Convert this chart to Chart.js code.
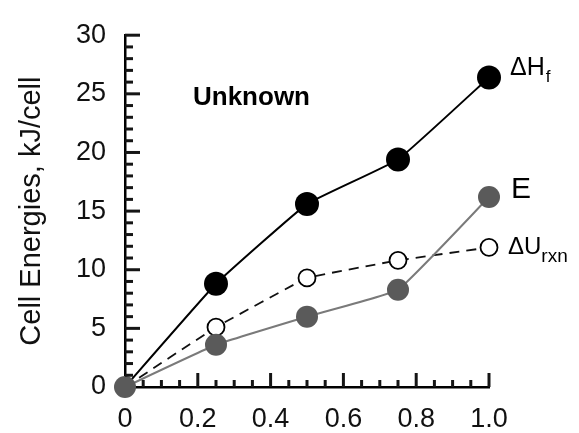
<!DOCTYPE html>
<html>
<head>
<meta charset="utf-8">
<script src="https://cdn.jsdelivr.net/npm/chart.js@4/dist/chart.umd.min.js"></script>
<style>
  html, body { margin: 0; padding: 0; background: #fff; }
  #wrap { width: 579px; height: 433px; }
</style>
</head>
<body>
<div id="wrap"><canvas id="c" width="579" height="433"></canvas></div>
<script>
// ---- data ----
const xValues   = [0, 0.25, 0.5, 0.75, 1.0];
const deltaHf   = [0, 8.8, 15.6, 19.4, 26.4];
const deltaUrxn = [0, 5.1, 9.3, 10.8, 11.9];
const cellE     = [0, 3.6, 6.0, 8.3, 16.2];
const xTickLabels = ['0', '0.2', '0.4', '0.6', '0.8', '1.0'];
const yTickLabels = ['0', '5', '10', '15', '20', '25', '30'];
const yTitle = 'Cell Energies, kJ/cell';
const panelLabel = 'Unknown';

const pts = arr => xValues.map((x, i) => ({ x, y: arr[i] }));

const FONT = "'Liberation Sans', Arial, Helvetica, sans-serif";

function drawTicks(chart) {
  const ctx = chart.ctx;
  const xs = chart.scales.x, ys = chart.scales.y;
  const left = chart.chartArea.left, bottom = chart.chartArea.bottom;
  ctx.save();
  ctx.setLineDash([]);
  ctx.globalAlpha = 1;
  ctx.strokeStyle = '#151515';
  ctx.lineWidth = 3;
  for (let v = 1; v <= 30; v++) {
    const py = ys.getPixelForValue(v);
    const len = v % 5 === 0 ? 15 : 8;
    ctx.beginPath(); ctx.moveTo(left, py); ctx.lineTo(left + len, py); ctx.stroke();
  }
  for (let i = 1; i <= 20; i++) {
    const px = xs.getPixelForValue(i * 0.05);
    const len = i % 4 === 0 ? 14 : 7;
    ctx.beginPath(); ctx.moveTo(px, bottom); ctx.lineTo(px, bottom - len); ctx.stroke();
  }
  ctx.restore();
}

const seriesLabels = {
  id: 'seriesLabels',
  afterDraw(chart) {
    drawTicks(chart);
    const { ctx, scales: { x, y } } = chart;
    const last = xValues.length - 1;
    const px = x.getPixelForValue(xValues[last]);
    ctx.save();
    ctx.fillStyle = '#000';
    ctx.textBaseline = 'alphabetic';
    ctx.textAlign = 'left';

    let py = y.getPixelForValue(deltaHf[last]);
    ctx.font = '25px ' + FONT;
    let tx = px + 21;
    ctx.fillText('ΔH', tx, py - 2);
    let w = ctx.measureText('ΔH').width;
    ctx.font = '17px ' + FONT;
    ctx.fillText('f', tx + w + 1, py + 5);

    py = y.getPixelForValue(cellE[last]);
    ctx.font = '30px ' + FONT;
    ctx.fillText('E', px + 22, py + 1);

    py = y.getPixelForValue(deltaUrxn[last]);
    ctx.font = '24px ' + FONT;
    tx = px + 19;
    ctx.fillText('ΔU', tx, py + 7);
    w = ctx.measureText('ΔU').width;
    ctx.font = '19px ' + FONT;
    ctx.fillText('rxn', tx + w, py + 15);

    ctx.font = 'bold 26px ' + FONT;
    ctx.fillText(panelLabel, chart.chartArea.left + 68, chart.chartArea.top + 70);
    ctx.restore();
  }
};

new Chart(document.getElementById('c'), {
  type: 'line',
  data: {
    datasets: [
      {
        label: 'E',
        data: pts(cellE),
        borderColor: '#7a7a7a',
        borderWidth: 2,
        backgroundColor: '#5a5a5a',
        pointBackgroundColor: '#5a5a5a',
        pointBorderColor: '#5a5a5a',
        pointBorderWidth: 0,
        pointRadius: 11,
        tension: 0.1,
        clip: false
      },
      {
        label: 'ΔUrxn',
        data: pts(deltaUrxn),
        borderColor: '#111',
        borderWidth: 1.8,
        borderDash: [10, 7],
        pointBackgroundColor: '#fff',
        pointBorderColor: '#000',
        pointBorderWidth: 1.8,
        pointRadius: ctx => ctx.dataIndex === 0 ? 0 : 8.5,
        tension: 0.05,
        clip: false
      },
      {
        label: 'ΔHf',
        data: pts(deltaHf),
        borderColor: '#000',
        borderWidth: 2,
        pointBackgroundColor: '#000',
        pointBorderColor: '#000',
        pointBorderWidth: 0,
        pointRadius: ctx => ctx.dataIndex === 0 ? 0 : 12,
        tension: 0.1,
        clip: false
      }
    ]
  },
  options: {
    responsive: false,
    animation: false,
    devicePixelRatio: 1,
    layout: { padding: { left: 0, top: 23, right: 90, bottom: 0 } },
    plugins: { legend: { display: false }, tooltip: { enabled: false } },
    elements: { point: { hoverRadius: 0 } },
    scales: {
      x: {
        type: 'linear',
        min: 0, max: 1,
        afterFit: s => { s.height = 46; },
        border: { display: true, color: '#000', width: 2.5 },
        grid: { display: true, drawOnChartArea: false, drawTicks: false },
        ticks: {
          stepSize: 0.2,
          padding: 16,
          color: '#111',
          font: { family: FONT, size: 27 },
          maxRotation: 0,
          callback: (v) => xTickLabels[Math.round(v / 0.2)]
        }
      },
      y: {
        type: 'linear',
        min: 0, max: 30,
        afterFit: s => { s.width = 125; },
        border: { display: true, color: '#000', width: 2.5 },
        grid: { display: true, drawOnChartArea: false, drawTicks: false },
        title: {
          display: true,
          text: yTitle,
          color: '#111',
          font: { family: FONT, size: 29 },
          padding: { top: 15, bottom: 0 }
        },
        ticks: {
          stepSize: 5,
          padding: 19,
          color: '#111',
          font: { family: FONT, size: 27 },
          callback: (v) => yTickLabels[Math.round(v / 5)]
        }
      }
    }
  },
  plugins: [seriesLabels]
});
</script>
</body>
</html>
